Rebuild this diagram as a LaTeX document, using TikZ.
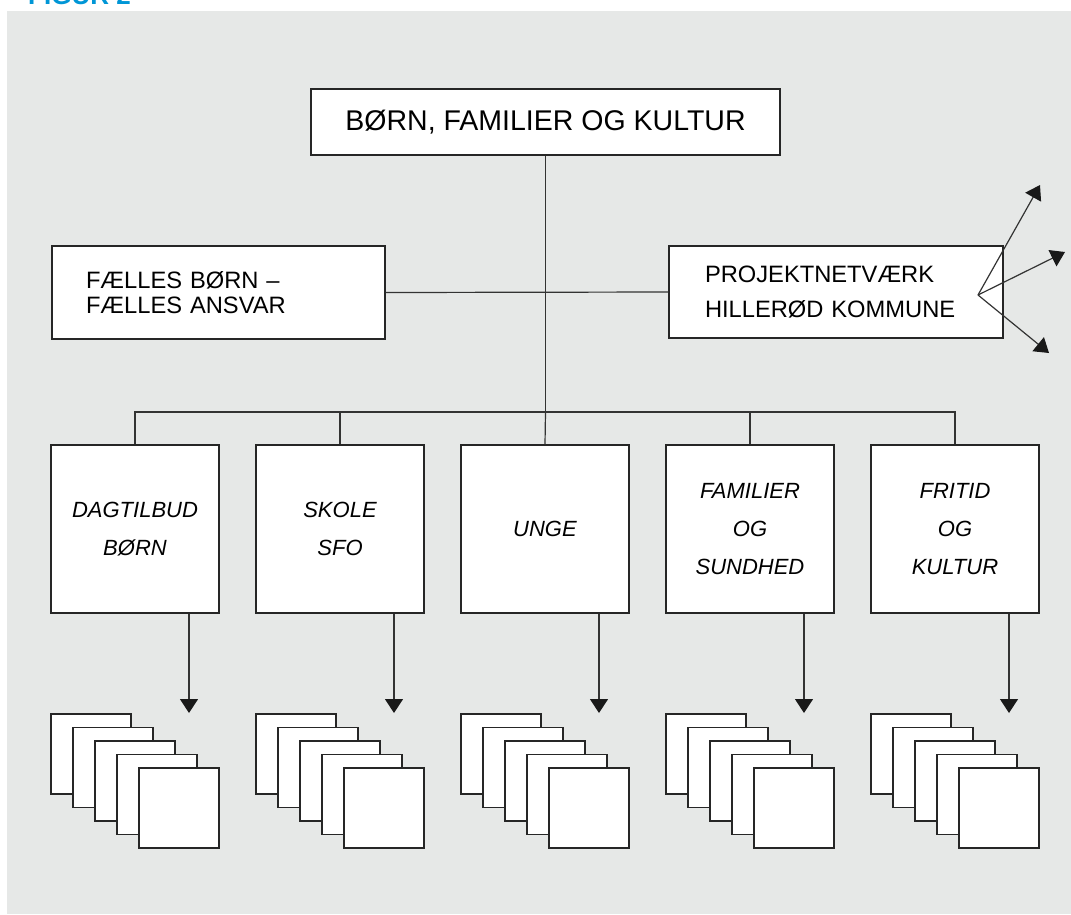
\documentclass[tikz,border=0pt]{standalone}
\usepackage{fontspec}
\setmainfont{Liberation Sans}
\usetikzlibrary{arrows.meta}
\definecolor{bggray}{RGB}{230,232,231}
\definecolor{figblue}{RGB}{0,150,214}
\tikzset{
  box/.style={rectangle,draw=black!85,line width=1.2pt,fill=white,inner sep=0pt},
  unit/.style={box,minimum width=168,minimum height=168,align=center,font=\fontsize{22}{38}\selectfont\itshape},
  link/.style={line width=1.2pt,color=black!80},
  tip/.style={link,-{Triangle[length=14pt,width=18pt,color=black!90]}},
  sheet/.style={draw=black!85,line width=1.1pt,fill=white},
}
\begin{document}
\begin{tikzpicture}[x=1pt,y=-1pt]
	\clip (0,0) rectangle (1071,914);
	\fill [bggray] (7,11) rectangle (1071,914);
	\node (fig) [anchor=base west,inner sep=0pt,text=figblue,font=\fontsize{26}{26}\selectfont\bfseries] at (28,4) {FIGUR 2};

	\node (top) [box,minimum width=469,minimum height=66,font=\fontsize{28.5}{30}\selectfont] at (545.5,122) {BØRN, FAMILIER OG KULTUR};
	\node (shared) [box,text width=265,inner xsep=34,minimum height=93,align=left,font=\fontsize{23.7}{25}\selectfont] at (218.5,292.5) {FÆLLES BØRN –\\FÆLLES ANSVAR};
	\node (project) [box,text width=262,inner xsep=36,minimum height=92,align=left,font=\fontsize{23.7}{35}\selectfont] at (836,292) {PROJEKTNETVÆRK\\HILLERØD KOMMUNE};

	\node (u1) [unit] at (135,529) {DAGTILBUD\\BØRN};
	\node (u2) [unit] at (340,529) {SKOLE\\SFO};
	\node (u3) [unit] at (545,529) {UNGE};
	\node (u4) [unit] at (750,529) {FAMILIER\\OG\\SUNDHED};
	\node (u5) [unit] at (955,529) {FRITID\\OG\\KULTUR};

	\coordinate (bar) at (545.5,412);
	\coordinate (fan) at (978,295);
	\coordinate (out1) at (1040,185);
	\coordinate (out2) at (1065,252);
	\coordinate (out3) at (1049,353);
	\coordinate (in1) at (189,713);
	\coordinate (in2) at (394,713);
	\coordinate (in3) at (599,713);
	\coordinate (in4) at (804,713);
	\coordinate (in5) at (1009,713);

	% tree
	\draw [link] (top.south) -- (bar);
	\draw [link] (shared.east) -- (project.west);
	\draw [link] (u1.north) |- (bar);
	\draw [link] (u2.north) |- (bar);
	\draw [link] (u3.north) -- (bar);
	\draw [link] (u4.north) |- (bar);
	\draw [link] (u5.north) |- (bar);

	% network out of the box
	\draw [tip] (fan) -- (out1);
	\draw [tip] (fan) -- (out2);
	\draw [tip] (fan) -- (out3);

	\draw [tip] (u1.south -| in1) -- (in1);
	\draw [tip] (u2.south -| in2) -- (in2);
	\draw [tip] (u3.south -| in3) -- (in3);
	\draw [tip] (u4.south -| in4) -- (in4);
	\draw [tip] (u5.south -| in5) -- (in5);

	% stacks of sheets
	\draw [sheet] (51,714) rectangle +(80,80);
	\draw [sheet] (73,727.5) rectangle +(80,80);
	\draw [sheet] (95,741) rectangle +(80,80);
	\draw [sheet] (117,754.5) rectangle +(80,80);
	\draw [sheet] (139,768) rectangle +(80,80);

	\draw [sheet] (256,714) rectangle +(80,80);
	\draw [sheet] (278,727.5) rectangle +(80,80);
	\draw [sheet] (300,741) rectangle +(80,80);
	\draw [sheet] (322,754.5) rectangle +(80,80);
	\draw [sheet] (344,768) rectangle +(80,80);

	\draw [sheet] (461,714) rectangle +(80,80);
	\draw [sheet] (483,727.5) rectangle +(80,80);
	\draw [sheet] (505,741) rectangle +(80,80);
	\draw [sheet] (527,754.5) rectangle +(80,80);
	\draw [sheet] (549,768) rectangle +(80,80);

	\draw [sheet] (666,714) rectangle +(80,80);
	\draw [sheet] (688,727.5) rectangle +(80,80);
	\draw [sheet] (710,741) rectangle +(80,80);
	\draw [sheet] (732,754.5) rectangle +(80,80);
	\draw [sheet] (754,768) rectangle +(80,80);

	\draw [sheet] (871,714) rectangle +(80,80);
	\draw [sheet] (893,727.5) rectangle +(80,80);
	\draw [sheet] (915,741) rectangle +(80,80);
	\draw [sheet] (937,754.5) rectangle +(80,80);
	\draw [sheet] (959,768) rectangle +(80,80);
\end{tikzpicture}
\end{document}
